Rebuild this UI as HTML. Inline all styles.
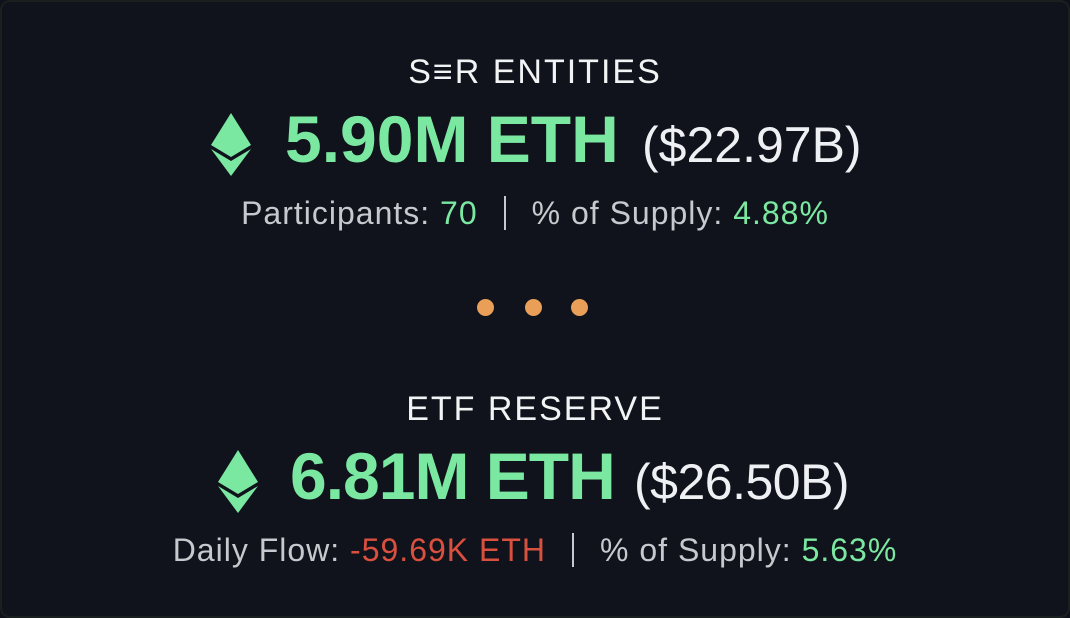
<!DOCTYPE html>
<html><head><meta charset="utf-8"><style>
html,body{margin:0;padding:0;width:1070px;height:618px;overflow:hidden;background:#0f121a;}
#card{position:absolute;left:0;top:0;width:1066px;height:614px;border:2px solid #19201f;border-radius:10px;background:#10131b;font-family:"Liberation Sans",sans-serif;}
.abs{position:absolute;white-space:nowrap;line-height:1;}
.title{left:0;width:1066px;text-align:center;font-size:34px;letter-spacing:2px;color:#f2f3f5;}
.big{font-size:66px;font-weight:bold;color:#7be8a2;}
.usd{font-size:50px;color:#eef0f3;}
.sub{left:0;width:1066px;text-align:center;font-size:32px;color:#c6c9cd;letter-spacing:1px;}
.g{color:#7be8a2}.r{color:#d9503f}
.sep{display:inline-block;width:2px;height:34px;background:#c6c9cd;vertical-align:-6px;margin:0 26px;}
.dot{position:absolute;width:17px;height:17px;border-radius:50%;background:#e99f58;}
</style></head><body>
<div id="card">
  <div class="abs title" style="top:53px">S&#x2261;R ENTITIES</div>
  <svg class="abs" style="left:209px;top:111px" width="40" height="63" viewBox="0 0 40 63">
    <polygon points="20,0 40,32 20,44 0,32" fill="#7be8a2"/>
    <polygon points="0,36 20,48 40,36 20,63" fill="#7be8a2"/>
  </svg>
  <div class="abs big" style="left:283px;top:104px">5.90M ETH</div>
  <div class="abs usd" style="left:640px;top:118px">($22.97B)</div>
  <div class="abs sub" style="top:194px">Participants: <span class="g">70</span><span class="sep"></span>% of Supply: <span class="g">4.88%</span></div>

  <div class="dot" style="left:475px;top:297px"></div>
  <div class="dot" style="left:523px;top:297px"></div>
  <div class="dot" style="left:569px;top:297px"></div>

  <div class="abs title" style="top:390px">ETF RESERVE</div>
  <svg class="abs" style="left:216px;top:448px" width="40" height="63" viewBox="0 0 40 63">
    <polygon points="20,0 40,32 20,44 0,32" fill="#7be8a2"/>
    <polygon points="0,36 20,48 40,36 20,63" fill="#7be8a2"/>
  </svg>
  <div class="abs big" style="left:288px;top:441px;letter-spacing:-1px">6.81M ETH</div>
  <div class="abs usd" style="left:632px;top:455px;letter-spacing:-0.5px">($26.50B)</div>
  <div class="abs sub" style="top:531px">Daily Flow: <span class="r">-59.69K ETH</span><span class="sep"></span>% of Supply: <span class="g">5.63%</span></div>
</div>
</body></html>
